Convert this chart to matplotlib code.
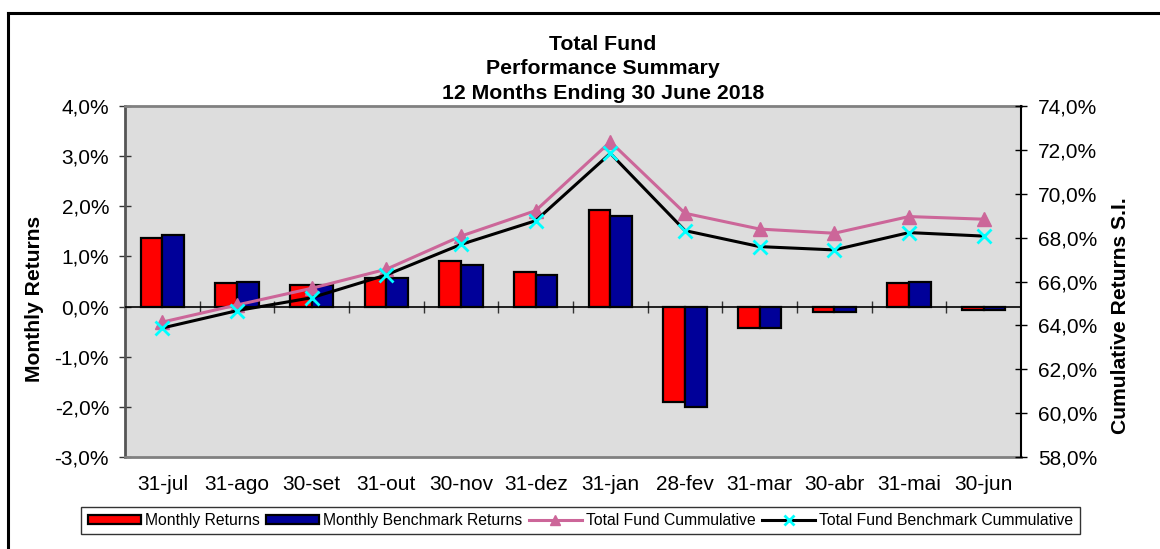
import matplotlib
matplotlib.use("Agg")
import matplotlib.pyplot as plt
from matplotlib.lines import Line2D
from matplotlib.ticker import FuncFormatter, MultipleLocator
import numpy as np

plt.rcParams['font.family'] = ['Liberation Sans', 'DejaVu Sans']

categories = ['31-jul', '31-ago', '30-set', '31-out', '30-nov', '31-dez',
              '31-jan', '28-fev', '31-mar', '30-abr', '31-mai', '30-jun']
monthly_returns = [1.37, 0.47, 0.44, 0.57, 0.90, 0.69, 1.92, -1.91, -0.42, -0.10, 0.47, -0.07]
benchmark_returns = [1.43, 0.50, 0.44, 0.57, 0.83, 0.63, 1.81, -2.00, -0.42, -0.10, 0.49, -0.07]
fund_cumulative = [64.15, 64.93, 65.69, 66.56, 68.07, 69.23, 72.37, 69.11, 68.39, 68.20, 68.96, 68.84]
bench_cumulative = [63.88, 64.67, 65.26, 66.30, 67.69, 68.77, 71.84, 68.32, 67.59, 67.44, 68.23, 68.07]

W, H = 1160, 549
fig = plt.figure(figsize=(W / 100, H / 100), dpi=100)
ax = fig.add_axes([125 / W, 1 - 457 / H, (1021 - 125) / W, (457 - 106) / H])
ax.set_facecolor('#DDDDDD')

x = np.arange(len(categories))
bw = 0.29
b1 = ax.bar(x - bw / 2, monthly_returns, bw, color='#FF0000', edgecolor='black', linewidth=1.6, zorder=3)
b2 = ax.bar(x + bw / 2, benchmark_returns, bw, color='#000099', edgecolor='black', linewidth=1.6, zorder=3)
ax.set_ylim(-3, 4)
ax.set_xlim(-0.5, len(categories) - 0.5)
ax.yaxis.set_major_locator(MultipleLocator(1))
ax.yaxis.set_major_formatter(FuncFormatter(lambda v, p: f"{v:.1f}%".replace('.', ',')))
ax.tick_params(axis='y', direction='inout', length=9, width=1, labelsize=15, pad=7, color='#333333')
ax.set_xticks(x)
ax.set_xticklabels(categories)
ax.tick_params(axis='x', length=0, labelsize=15, pad=13)
ax.axhline(0, color='black', lw=1.2, zorder=4)

for s in ['top', 'bottom']:
    ax.spines[s].set_color('#808080')
    ax.spines[s].set_linewidth(2)
ax.spines['left'].set_color('#555555')
ax.spines['left'].set_linewidth(2)
ax.spines['right'].set_visible(False)

# category tick marks on the zero line
loc0 = (0 - ax.get_ylim()[0]) / (ax.get_ylim()[1] - ax.get_ylim()[0])
sec = ax.secondary_xaxis(loc0)
sec.set_xticks(x[:-1] + 0.5)
sec.set_xticklabels([])
sec.tick_params(direction='inout', length=9, width=1, color='#333333')
sec.spines['bottom'].set_visible(False)
sec.spines['top'].set_visible(False)

ax2 = ax.twinx()
l1, = ax2.plot(x, fund_cumulative, color='#CC6699', lw=2.2, marker='^', markersize=10,
               markerfacecolor='#CC6699', markeredgecolor='#CC6699', zorder=5)
l2, = ax2.plot(x, bench_cumulative, color='black', lw=2.2, marker='x', markersize=10,
               markeredgecolor='#00FFFF', markeredgewidth=2, zorder=6)
ax2.set_ylim(58, 74)
ax2.yaxis.set_major_locator(MultipleLocator(2))
ax2.yaxis.set_major_formatter(FuncFormatter(lambda v, p: f"{v:.1f}%".replace('.', ',')))
ax2.tick_params(axis='y', direction='inout', length=9, width=1, labelsize=15, pad=8, color='black')
for s in ['top', 'bottom', 'left']:
    ax2.spines[s].set_visible(False)
ax2.spines['right'].set_color('black')
ax2.spines['right'].set_linewidth(1.5)

fig.text(603 / W, 1 - 34.5 / H, "Total Fund\nPerformance Summary\n12 Months Ending 30 June 2018",
         ha='center', va='top', fontsize=15.3, fontweight='bold', linespacing=1.37)
fig.text(35 / W, 1 - 299 / H, "Monthly Returns", rotation=90, ha='center', va='center',
         fontsize=15.2, fontweight='bold')
fig.text(1120 / W, 1 - 316 / H, "Cumulative Returns S.I.", rotation=90, ha='center', va='center',
         fontsize=15.2, fontweight='bold')

leg = fig.legend([b1, b2, l1, l2],
                 ['Monthly Returns', 'Monthly Benchmark Returns', 'Total Fund Cummulative',
                  'Total Fund Benchmark Cummulative'],
                 loc='center', bbox_to_anchor=(580.5 / W, 1 - 520.5 / H), ncol=4, fontsize=11.3,
                 frameon=True, fancybox=False, edgecolor='black', handlelength=3.4,
                 handleheight=0.55, handletextpad=0.25, columnspacing=0.4, borderpad=0.4,
                 borderaxespad=0)
leg.get_frame().set_linewidth(1.0)
for h in leg.legend_handles:
    if isinstance(h, Line2D):
        h.set_markersize(7)

# outer chart border (top and left visible)
fig.add_artist(Line2D([8 / W, 1], [1 - 13 / H, 1 - 13 / H], transform=fig.transFigure, color='black', lw=2.2))
fig.add_artist(Line2D([8 / W, 8 / W], [1 - 13 / H, 0], transform=fig.transFigure, color='black', lw=2.2))

fig.savefig('out.png', dpi=100)
